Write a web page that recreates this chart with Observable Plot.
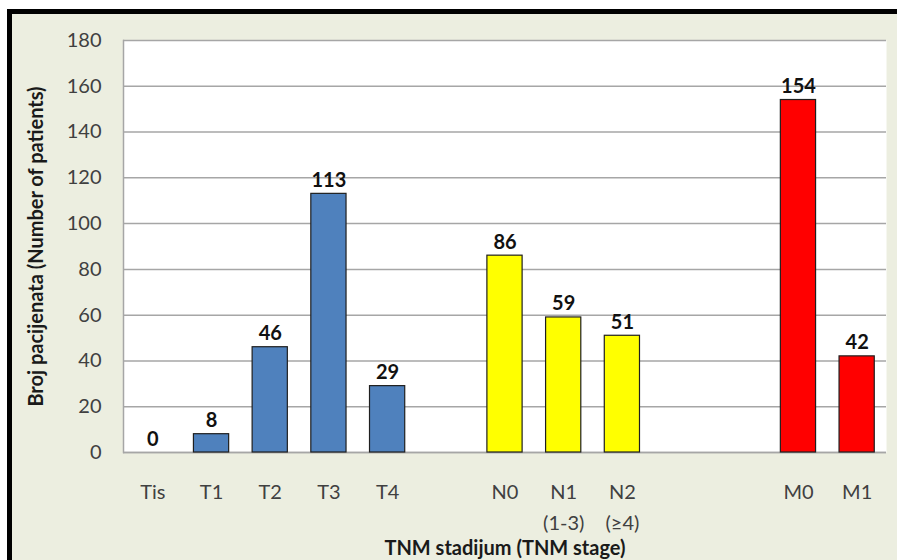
<!DOCTYPE html>
<html>
<head>
<meta charset="utf-8">
<script src="https://cdn.jsdelivr.net/npm/d3@7"></script>
<script src="https://cdn.jsdelivr.net/npm/@observablehq/plot@0.6"></script>
<style>
  html, body { margin: 0; padding: 0; background: #ffffff; width: 897px; height: 560px; overflow: hidden; }
  #panel {
    position: absolute; left: 7px; top: 9px; right: 0; bottom: 0;
    border-top: 5px solid #000; border-left: 5px solid #000;
    background: #eceee0;
  }
  #chart { position: absolute; left: 0; top: 0; }
  #chart svg { background: transparent; }
  #chart [aria-label="y-axis label"] text,
  #chart [aria-label="x-axis label"] text { font-weight: bold; fill: #1a1a1a; }
</style>
</head>
<body>
<div id="panel"></div>
<div id="chart"></div>
<script>
// TNM stage distribution of patients
const stages   = ["Tis", "T1", "T2", "T3", "T4", "N0", "N1\n(1-3)", "N2\n(≥4)", "M0", "M1"];
const patients = [0, 8, 46, 113, 29, 86, 59, 51, 154, 42];
const groups   = ["T", "T", "T", "T", "T", "N", "N", "N", "M", "M"];

// empty slots that separate the T, N and M groups on the axis
const axisOrder = ["Tis", "T1", "T2", "T3", "T4", " ", "N0", "N1\n(1-3)", "N2\n(≥4)", "  ", "   ", "M0", "M1"];
const yTicks = [0, 20, 40, 60, 80, 100, 120, 140, 160, 180];

const groupNames  = ["T", "N", "M"];
const groupColors = ["#4f81bd", "#ffff00", "#ff0000"];

const rows = stages.map((s, i) => ({stage: s, n: patients[i], group: groups[i]}));

const chart = Plot.plot({
  width: 897,
  height: 560,
  marginLeft: 123,
  marginRight: 11,
  marginTop: 40,
  marginBottom: 108,
  style: {fontFamily: "Lato, 'Open Sans', sans-serif", fontSize: "20px", background: "transparent"},
  x: {domain: axisOrder, paddingInner: 0.4, paddingOuter: 0.2, round: false},
  y: {domain: [0, 180]},
  color: {domain: groupNames, range: groupColors},
  marks: [
    Plot.frame({fill: "white", stroke: "none"}),
    Plot.gridY(yTicks, {stroke: "#a6a6a6", strokeOpacity: 1, strokeWidth: 1.5}),
    Plot.frame({anchor: "left", stroke: "#a6a6a6", strokeWidth: 1.5}),
    Plot.ruleY([0], {stroke: "#a6a6a6", strokeWidth: 1.5}),
    Plot.barY(rows, {x: "stage", y: "n", fill: "group", stroke: "#1f1f1f", strokeWidth: 1.2}),
    Plot.text(rows, {x: "stage", y: "n", text: d => String(d.n), lineAnchor: "bottom", dy: -7,
      fontWeight: "bold", fontSize: 20, fill: "#111"}),
    Plot.axisY({ticks: yTicks, tickSize: 0, tickPadding: 22, color: "#404040",
      label: "Broj pacijenata (Number of patients)", labelAnchor: "center", labelArrow: "none", labelOffset: 95}),
    Plot.axisX({tickSize: 0, tickPadding: 24, color: "#404040", lineHeight: 1.55,
      label: "TNM stadijum (TNM stage)", labelAnchor: "center", labelArrow: "none", labelOffset: 102})
  ]
});

document.getElementById("chart").appendChild(chart);
</script>
</body>
</html>
